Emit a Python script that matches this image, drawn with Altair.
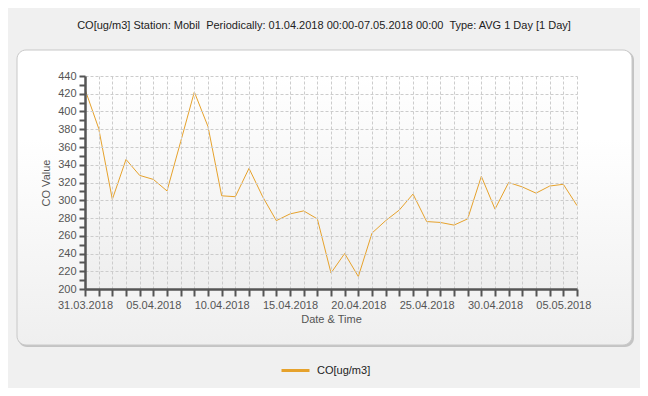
import altair as alt
import pandas as pd

# ---- data ----
start_date = "2018-03-31"
values = [425, 381, 301, 346, 328, 323.5, 310.5, 366, 422, 383,
          305, 304, 336, 304, 277, 284.6, 288, 279, 218, 240,
          214, 263, 277, 289, 307, 276, 275, 272, 279, 327,
          290, 320, 315, 308, 316, 318, 294]
series_name = "CO[ug/m3]"
title_text = "CO[ug/m3] Station: Mobil\u00a0 Periodically: 01.04.2018 00:00-07.05.2018 00:00\u00a0 Type: AVG 1 Day [1 Day]"
y_ticks = list(range(200, 441, 10))

dates = pd.date_range(start_date, periods=len(values), freq="D").strftime("%Y-%m-%d").tolist()
df = pd.DataFrame({"date": dates, "value": values, "series": series_name})

W, H = 492, 213
FONT = "Liberation Sans"
LINE_COLOR = "#E6A22C"

day_values = [alt.DateTime(year=int(d[:4]), month=int(d[5:7]), date=int(d[8:]), utc=True) for d in dates]

x_enc = alt.X(
    "date:T",
    scale=alt.Scale(type="utc", domain=[day_values[0], day_values[-1]], nice=False),
    axis=alt.Axis(
        values=day_values,
        labelExpr="round((datum.value - utc(2018,2,31))/86400000) % 5 == 0 ? utcFormat(datum.value, '%d.%m.%Y') : ''",
        labelOverlap=False,
        labelFlush=False,
        title="Date & Time",
        titlePadding=3,
        labelPadding=3,
        tickSize=7,
        zindex=1,
    ),
)
y_enc = alt.Y(
    "value:Q",
    scale=alt.Scale(domain=[200, 440], nice=False, zero=False),
    axis=alt.Axis(
        values=y_ticks,
        labelExpr="datum.value % 20 == 0 ? datum.label : ''",
        gridOpacity={"condition": {"test": "datum.value % 20 == 0", "value": 1}, "value": 0},
        labelOverlap=False,
        title="CO Value",
        titlePadding=6,
        labelPadding=3,
        tickSize=6,
        zindex=1,
    ),
)

one = pd.DataFrame({"a": [0]})

shadow = alt.Chart(one).mark_rect(cornerRadius=9, fill="#c4c4c4").encode(
    x=alt.value(-67), x2=alt.value(549), y=alt.value(-25), y2=alt.value(271)
)
panel = alt.Chart(one).mark_rect(
    cornerRadius=9,
    stroke="#c8c8c8",
    strokeWidth=1,
    fill=alt.LinearGradient(
        gradient="linear",
        stops=[alt.GradientStop(color="#ffffff", offset=0),
               alt.GradientStop(color="#ffffff", offset=0.3),
               alt.GradientStop(color="#efefef", offset=1)],
        x1=0, x2=0, y1=0, y2=1,
    ),
).encode(x=alt.value(-68), x2=alt.value(547), y=alt.value(-26), y2=alt.value(269))

plotbg = alt.Chart(one).mark_rect(
    fill=alt.LinearGradient(
        gradient="linear",
        stops=[alt.GradientStop(color="#ffffff", offset=0),
               alt.GradientStop(color="#eeeeee", offset=1)],
        x1=0, x2=0, y1=0, y2=1,
    ),
).encode(x=alt.value(0), x2=alt.value(W), y=alt.value(0), y2=alt.value(H))

title = alt.Chart(one).mark_text(
    text=title_text, font=FONT, fontSize=11, color="#222222", align="center", baseline="middle"
).encode(x=alt.value(239), y=alt.value(-50))

line = alt.Chart(df).mark_line(strokeWidth=1, clip=False).encode(
    x=x_enc,
    y=y_enc,
    color=alt.Color(
        "series:N",
        scale=alt.Scale(range=[LINE_COLOR]),
        legend=alt.Legend(
            title=None,
            orient="none",
            legendX=195,
            legendY=279,
            symbolType="stroke",
            symbolSize=784,
            symbolStrokeWidth=3,
            labelFont=FONT,
            labelFontSize=11,
            labelColor="#222222",
            labelOffset=6,
            padding=0,
        ),
    ),
)

chart = (
    alt.layer(shadow, panel, plotbg, title, line)
    .properties(
        width=W,
        height=H,
        padding={"left": 77, "top": 68, "right": 63, "bottom": 99},
        autosize=alt.AutoSizeParams(type="none"),
        background="#f0f0f0",
    )
    .configure_view(stroke=None)
    .configure_axis(
        domainColor="#555555",
        domainWidth=2.5,
        tickColor="#555555",
        tickWidth=2,
        gridColor="#cccccc",
        gridDash=[3, 2],
        gridWidth=1,
        labelFont=FONT,
        labelFontSize=11,
        labelColor="#555555",
        titleFont=FONT,
        titleFontSize=11,
        titleFontWeight="normal",
        titleColor="#555555",
    )
)

chart.save("out.html", embed_options={"renderer": "svg", "actions": False})
